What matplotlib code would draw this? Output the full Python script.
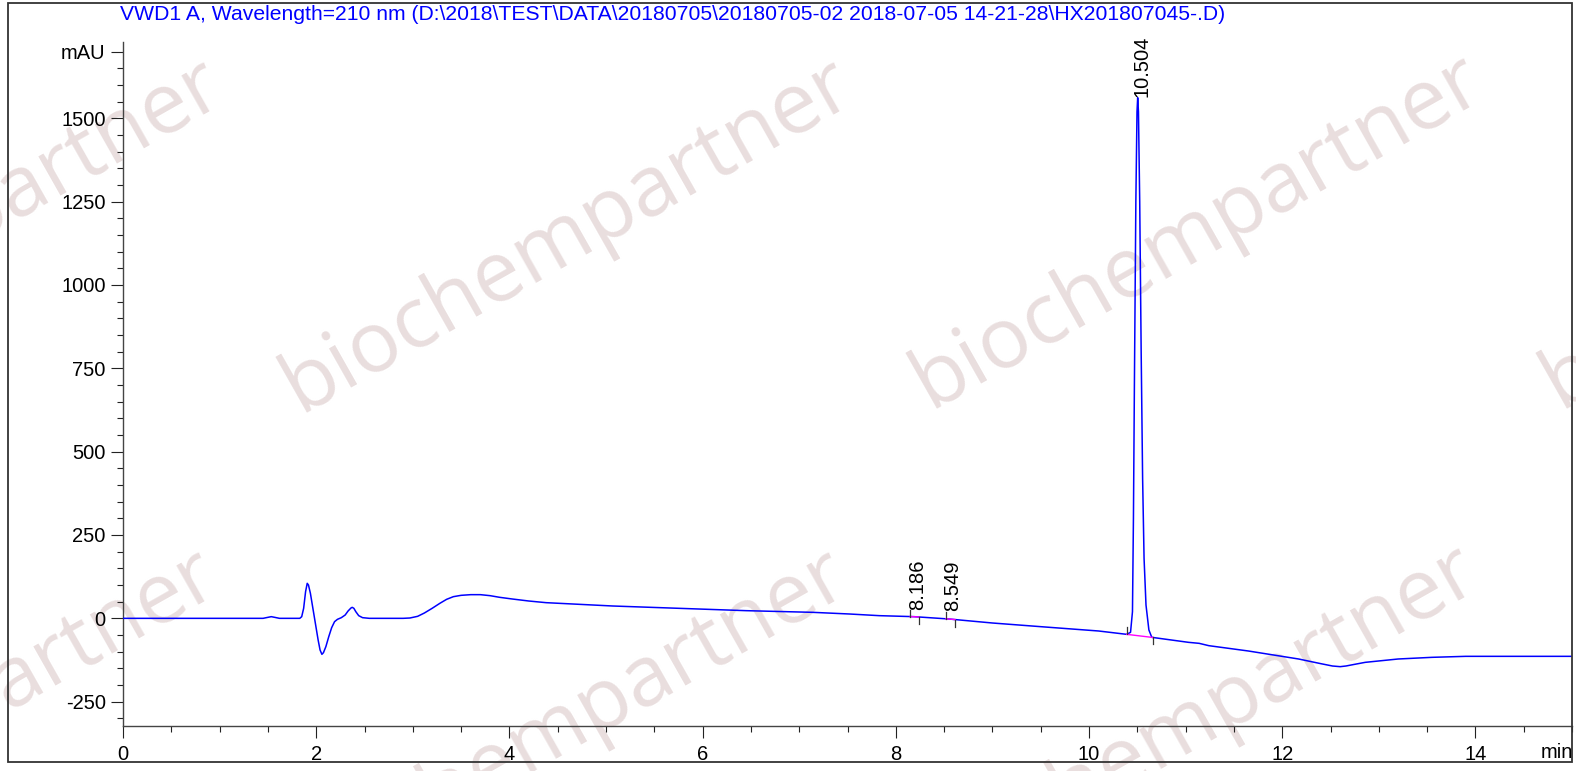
import numpy as np
import matplotlib
matplotlib.use("Agg")
import matplotlib.pyplot as plt
from matplotlib.patches import Rectangle

# trace (min, mAU)
time = [0.0, 1.40, 1.45, 1.50, 1.535, 1.57, 1.62, 1.70, 1.83, 1.85, 1.87, 1.89,
        1.907, 1.92, 1.94, 1.96, 1.98, 2.00, 2.02, 2.04, 2.059, 2.075, 2.10,
        2.13, 2.16, 2.19, 2.22, 2.26, 2.30, 2.33, 2.36, 2.373, 2.39, 2.41,
        2.44, 2.48, 2.55, 2.90, 2.97, 3.05, 3.12, 3.20, 3.28, 3.35, 3.42, 3.50,
        3.60, 3.70, 3.80, 3.90, 4.03, 4.20, 4.38, 5.07, 5.76, 6.45, 7.14, 7.52,
        7.83, 8.19, 8.55, 9.00, 9.50, 10.10, 10.39, 10.43, 10.45, 10.46, 10.47,
        10.485, 10.497, 10.504, 10.512, 10.525, 10.54, 10.555, 10.57, 10.59,
        10.62, 10.65, 11.03, 11.14, 11.24, 11.65, 12.17, 12.40, 12.52, 12.60,
        12.66, 12.75, 12.86, 13.20, 13.55, 13.90, 15.0]
mau = [0, 0, 0, 3, 5, 3, 0, 0, 0, 5, 30, 80,
       105, 100, 75, 40, 5, -30, -65, -95, -108, -103, -85,
       -55, -28, -10, -3, 2, 10, 22, 31, 33, 30, 20,
       8, 2, 0, 0, 1, 6, 16, 30, 45, 57, 65, 69,
       71, 71, 68, 63, 58, 52, 47, 37, 30, 23, 18, 13,
       8, 5, -2, -14, -25, -38, -48, -42, 20, 300, 700,
       1250, 1520, 1562, 1520, 1250, 800, 420, 180, 40,
       -35, -57, -72, -75, -82, -98, -122, -136, -143, -145,
       -143, -138, -132, -122, -117, -114, -114]

peak_rt = [8.186, 8.549, 10.504]
peak_start = [8.15, 8.518, 10.39]
peak_end = [8.24, 8.614, 10.66]
label_lift = [20, 22, 2]

title = ("VWD1 A, Wavelength=210 nm (D:\\2018\\TEST\\DATA\\20180705\\"
         "20180705-02 2018-07-05 14-21-28\\HX201807045-.D)")

ytick_vals = [-250, 0, 250, 500, 750, 1000, 1250, 1500, 1700]
ytick_labels = ["-250", "0", "250", "500", "750", "1000", "1250", "1500", "mAU"]
xtick_vals = [0, 2, 4, 6, 8, 10, 12, 14]

W, H = 1576, 771
fig = plt.figure(figsize=(W / 100, H / 100), dpi=100)
plt.rcParams['font.family'] = ['Liberation Sans', 'DejaVu Sans']

# watermark
wm_pos = [(-62, 236), (568, 236), (1198, 232), (1828, 232),
          (-67, 726), (563, 726), (1193, 722)]
for px, py in wm_pos:
    fig.text(px / W, 1 - py / H, "biochempartner", rotation=29.5,
             rotation_mode='anchor', ha='center', va='center',
             fontsize=61, family='Open Sans', color='#e9dede', zorder=-5)

ax = fig.add_axes([123 / W, 1 - 726 / H, (1572 - 123) / W, (726 - 42) / H])
ax.set_facecolor('none')
ax.plot(time, mau, color='#0000ff', lw=1.1, zorder=3)

# integration marks
for rt, st, en, lift in zip(peak_rt, peak_start, peak_end, label_lift):
    ys = np.interp(st, time, mau)
    ye = np.interp(en, time, mau)
    ax.plot([st, en], [ys, ye], color='#ff00ff', lw=1.0, zorder=4)
    ax.plot([st, st], [ys, ys + 21], color='#333333', lw=0.9, zorder=4)
    ax.plot([en, en], [ye, ye - 21], color='#333333', lw=0.9, zorder=4)
    ytop = np.interp(rt, time, mau) if rt > 10 else ys
    ax.annotate(f"{rt:.3f}", xy=(rt, ytop + lift), xytext=(3, 0),
                textcoords='offset points', rotation=90, ha='center',
                va='bottom', fontsize=14.5)

ax.set_xlim(0, 15)
ax.set_ylim(-323, 1729)
ax.spines['top'].set_visible(False)
ax.spines['right'].set_visible(False)
for s in ['left', 'bottom']:
    ax.spines[s].set_color('#444444')
    ax.spines[s].set_linewidth(1.0)

ax.set_xticks(xtick_vals)
ax.set_xticklabels([str(v) for v in xtick_vals])
ax.set_xticks(np.arange(0, 15.01, 0.5), minor=True)
ax.set_yticks(ytick_vals)
ax.set_yticklabels(ytick_labels)
ax.set_yticks(np.arange(-300, 1701, 50), minor=True)
ax.tick_params(which='major', length=8.5, width=0.8, labelsize=14.5, pad=4,
               color='#222222')
ax.tick_params(which='minor', length=4.3, width=0.8, color='#222222')
ax.tick_params(axis='x', which='major', pad=5)

ax.annotate("min", xy=(1, 0), xycoords='axes fraction', xytext=(1, -12),
            textcoords='offset points', ha='right', va='top', fontsize=14.5)

fig.text(120 / W, 1 - 15 / H, title, color='#0000ff', fontsize=15.2,
         ha='left', va='center')

fig.patches.append(Rectangle((8 / W, 1 - 762 / H), (1572 - 8) / W, (762 - 3) / H,
                             transform=fig.transFigure, fill=False,
                             edgecolor='#333333', lw=1.3))

fig.savefig("out.png", dpi=100)
